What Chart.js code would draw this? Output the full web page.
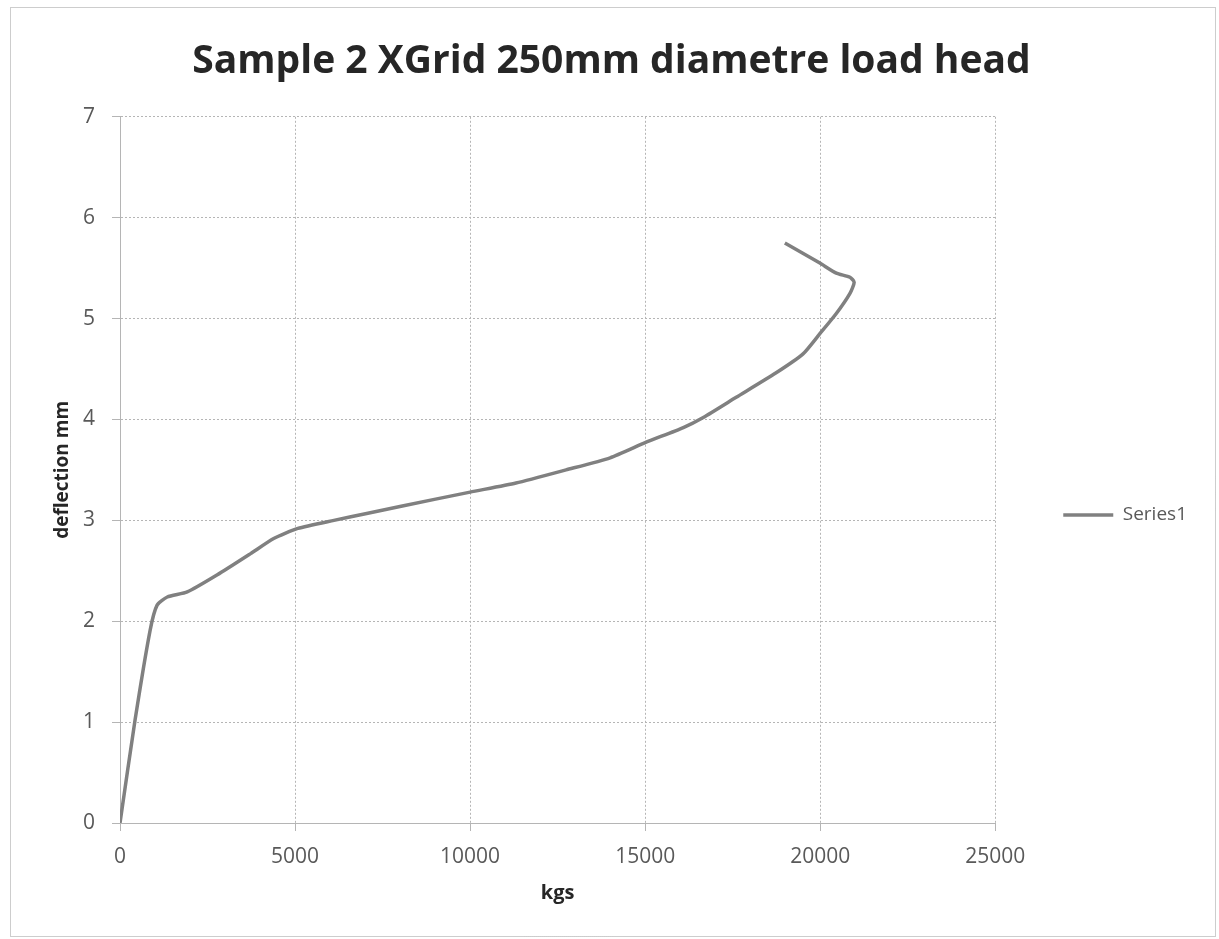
<!DOCTYPE html>
<html>
<head>
<meta charset="utf-8">
<script src="https://cdn.jsdelivr.net/npm/chart.js@4"></script>
<style>
  html, body { margin: 0; padding: 0; background: #fff; }
  #wrap { width: 1219px; height: 939px; }
</style>
</head>
<body>
<div id="wrap"><canvas id="loadChart" width="1219" height="939"></canvas></div>
<script>
// load (kgs) against deflection (mm)
const loadKg = [0, 430, 860, 1060, 1350, 1920, 2780, 3730, 4390, 5080, 6110, 7080, 8030,
  10000, 11310, 12740, 14000, 15000, 16090, 16660, 17600, 18730, 19510, 19990, 20460,
  20850, 20970, 20850, 20460, 19990, 18990];
const deflectionMm = [0, 1.02, 1.91, 2.16, 2.24, 2.29, 2.46, 2.67, 2.82, 2.92, 3.0, 3.07, 3.14,
  3.28, 3.37, 3.50, 3.62, 3.77, 3.92, 4.02, 4.22, 4.46, 4.65, 4.85, 5.05,
  5.25, 5.36, 5.41, 5.45, 5.55, 5.75];
const seriesName = 'Series1';
const chartTitle = 'Sample 2 XGrid 250mm diametre load head';
const xTitle = 'kgs';
const yTitle = 'deflection mm';

const tickGrey = '#595959';
const gridGrey = '#b5b5b5';

const frame = {
  id: 'frame',
  beforeDraw(chart) {
    const c = chart.ctx;
    c.save();
    c.fillStyle = '#fff';
    c.fillRect(0, 0, chart.width, chart.height);
    c.strokeStyle = '#9a9a9a';
    c.lineWidth = 1;
    c.setLineDash([1, 1]);
    c.strokeRect(10.5, 7.5, 1205, 929);
    c.restore();
  }
};

const ctx = document.getElementById('loadChart').getContext('2d');
new Chart(ctx, {
  type: 'scatter',
  data: {
    datasets: [{
      label: seriesName,
      data: loadKg.map((x, i) => ({ x: x, y: deflectionMm[i] })),
      showLine: true,
      borderColor: '#808080',
      backgroundColor: '#808080',
      borderWidth: 3.5,
      pointRadius: 0,
      tension: 0.2
    }]
  },
  options: {
    responsive: false,
    animation: false,
    layout: { padding: { left: 26, right: 22, top: 0, bottom: 0 } },
    plugins: {
      title: {
        display: true,
        text: chartTitle,
        color: '#262626',
        font: { family: 'Open Sans', size: 39, weight: 'bold' },
        padding: { top: 38, bottom: 32 }
      },
      legend: {
        position: 'right',
        fullSize: false,
        title: { display: true, text: ' ', font: { size: 10 }, padding: { top: 78, bottom: 0 } },
        labels: {
          usePointStyle: true,
          pointStyle: 'line',
          pointStyleWidth: 50,
          padding: 68,
          color: tickGrey,
          font: { family: 'Open Sans', size: 19 }
        }
      },
      tooltip: { enabled: false }
    },
    scales: {
      x: {
        type: 'linear',
        min: 0,
        max: 25000,
        ticks: {
          stepSize: 5000,
          color: tickGrey,
          padding: 13,
          font: { family: 'Open Sans', size: 21 },
          callback: v => String(v)
        },
        grid: { color: gridGrey, tickLength: 8 },
        border: { display: true, color: gridGrey, dash: [2, 2] },
        title: {
          display: true,
          text: xTitle,
          color: '#262626',
          font: { family: 'Open Sans', size: 20, weight: 'bold' },
          padding: { top: 4, bottom: 34 }
        },
        afterFit(scale) { scale.height = 116; }
      },
      y: {
        min: 0,
        max: 7,
        ticks: {
          stepSize: 1,
          color: tickGrey,
          padding: 17,
          font: { family: 'Open Sans', size: 21 },
          callback: v => String(v)
        },
        grid: { color: gridGrey, tickLength: 8 },
        border: { display: true, color: gridGrey, dash: [2, 2] },
        title: {
          display: true,
          text: yTitle,
          color: '#262626',
          font: { family: 'Open Sans', size: 19, weight: 'bold' },
          padding: { top: 25, bottom: 4 }
        },
        afterFit(scale) { scale.width = 94; }
      }
    }
  },
  plugins: [frame]
});
</script>
</body>
</html>
